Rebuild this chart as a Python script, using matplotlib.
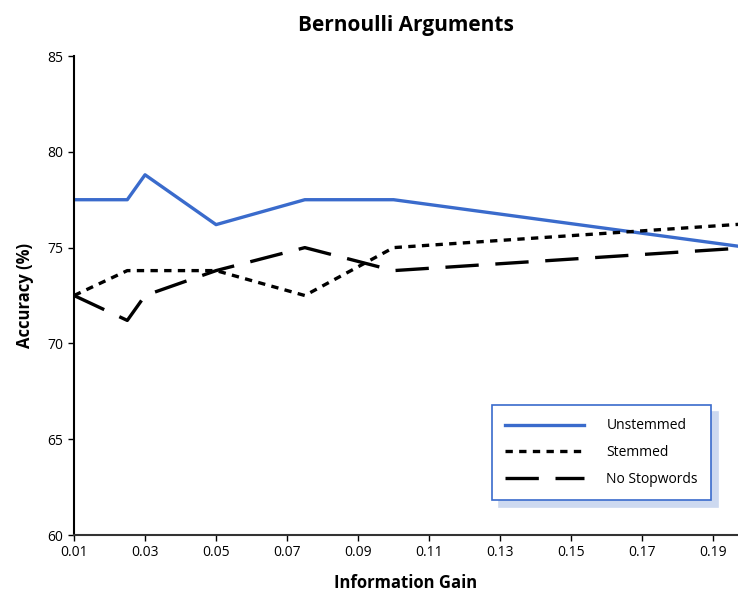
import matplotlib
matplotlib.use("Agg")
import matplotlib.pyplot as plt

plt.rcParams["font.family"] = ["Open Sans", "DejaVu Sans"]

info_gain = [0.01, 0.025, 0.03, 0.05, 0.075, 0.1, 0.2]
unstemmed = [77.5, 77.5, 78.8, 76.2, 77.5, 77.5, 75.0]
stemmed = [72.5, 73.8, 73.8, 73.8, 72.5, 75.0, 76.25]
no_stopwords = [72.5, 71.2, 72.5, 73.8, 75.0, 73.8, 75.0]
xticks = [0.01, 0.03, 0.05, 0.07, 0.09, 0.11, 0.13, 0.15, 0.17, 0.19]
yticks = [60, 65, 70, 75, 80, 85]

fig = plt.figure(figsize=(7.38, 5.94), dpi=100)
ax = fig.add_axes([0.1003, 0.0993, 0.8997, 0.8064])

ax.plot(info_gain, unstemmed, color="#3a6bcc", lw=2.4, label="Unstemmed")
ax.plot(info_gain, stemmed, color="black", lw=2.4, dashes=(2.2, 1.9), label="Stemmed")
ax.plot(info_gain, no_stopwords, color="black", lw=2.4, dashes=(10, 5), label="No Stopwords")

ax.set_xlim(0.01, 0.197)
ax.set_ylim(60, 85)
ax.set_xticks(xticks)
ax.set_xticklabels([f"{t:.2f}" for t in xticks])
ax.set_yticks(yticks)
ax.tick_params(labelsize=10, length=4, width=1)
for s in ("top", "right"):
    ax.spines[s].set_visible(False)
ax.spines["left"].set_linewidth(1.5)
ax.spines["bottom"].set_linewidth(1.5)
ax.spines["bottom"].set_color("#333333")

ax.set_title("Bernoulli Arguments", fontsize=15, fontweight="bold", pad=18)
ax.set_xlabel("Information Gain", fontsize=12, fontweight="bold", labelpad=10)
ax.set_ylabel("Accuracy (%)", fontsize=12, fontweight="bold", labelpad=10)

leg = ax.legend(loc="lower right", bbox_to_anchor=(0.97, 0.058), fancybox=False,
                framealpha=1, edgecolor="#3a6bcc", fontsize=10, handlelength=5.7,
                borderpad=0.95, labelspacing=0.85, handletextpad=1.6,
                shadow={"color": "#cdd9f0", "ox": 5, "oy": -5, "alpha": 1})
leg.get_frame().set_linewidth(1.2)

fig.savefig("out.png", dpi=100)
